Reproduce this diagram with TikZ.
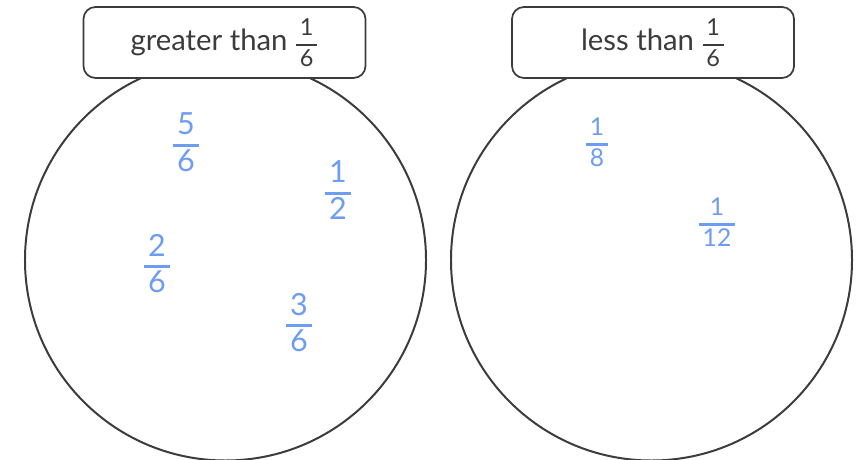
\documentclass[tikz,border=0pt]{standalone}
\usepackage{amsmath}
\usepackage{fontspec}
\setmainfont{Lato}
\usetikzlibrary{positioning}
\definecolor{inkgrey}{HTML}{3C3C3C}
\definecolor{penblue}{HTML}{6E9CF0}
\newcommand{\numfrac}[3][2pt]{$\genfrac{}{}{#1}{0}{\mbox{\hspace{0.15em}\raisebox{-0.06em}[\height][0pt]{#2}\hspace{0.15em}}}{\mbox{\hspace{0.15em}\raisebox{0.03em}[0pt][0pt]{#3}\hspace{0.15em}}}$}
\tikzset{
  setcircle/.style={circle, draw=inkgrey, line width=1.7pt, minimum size=12.03cm, inner sep=0pt},
  setlabel/.style={rectangle, rounded corners=0.36cm, draw=inkgrey, line width=1.5pt, fill=white, minimum width=8.46cm, minimum height=2.13cm, text=inkgrey, font=\fontsize{25}{28}\selectfont},
  handfrac/.style={text=penblue, font=\fontsize{26}{28}\selectfont, inner sep=0pt},
  smallfrac/.style={handfrac, font=\fontsize{21}{24}\selectfont}
}
\begin{document}
\begin{tikzpicture}[x=0.03cm,y=-0.03cm]
\useasboundingbox (0,0) rectangle (861,460);
% the two sets
\node[setcircle] (greaterset) at (225.5,260) {};
\node[setcircle] (lessset) at (651.5,260) {};
\node[setlabel] (greaterlabel) at (224.5,42.5) {greater than {\fontsize{20}{22}\selectfont\numfrac[1.6pt]{1}{6}}};
\node[setlabel] (lesslabel) at (653,42.5) {less than {\fontsize{20}{22}\selectfont\numfrac[1.6pt]{1}{6}}};
% sorted fractions
\node[handfrac] (fivesixths) at (186,142) {\numfrac{5}{6}};
\node[handfrac] (onehalf) at (338,190) {\numfrac{1}{2}};
\node[handfrac] (twosixths) at (157,263) {\numfrac{2}{6}};
\node[handfrac] (threesixths) at (299,322) {\numfrac{3}{6}};
\node[smallfrac] (oneeighth) at (597,142) {\numfrac{1}{8}};
\node[smallfrac] (onetwelfth) at (717,222) {\numfrac{1}{12}};
\end{tikzpicture}
\end{document}
